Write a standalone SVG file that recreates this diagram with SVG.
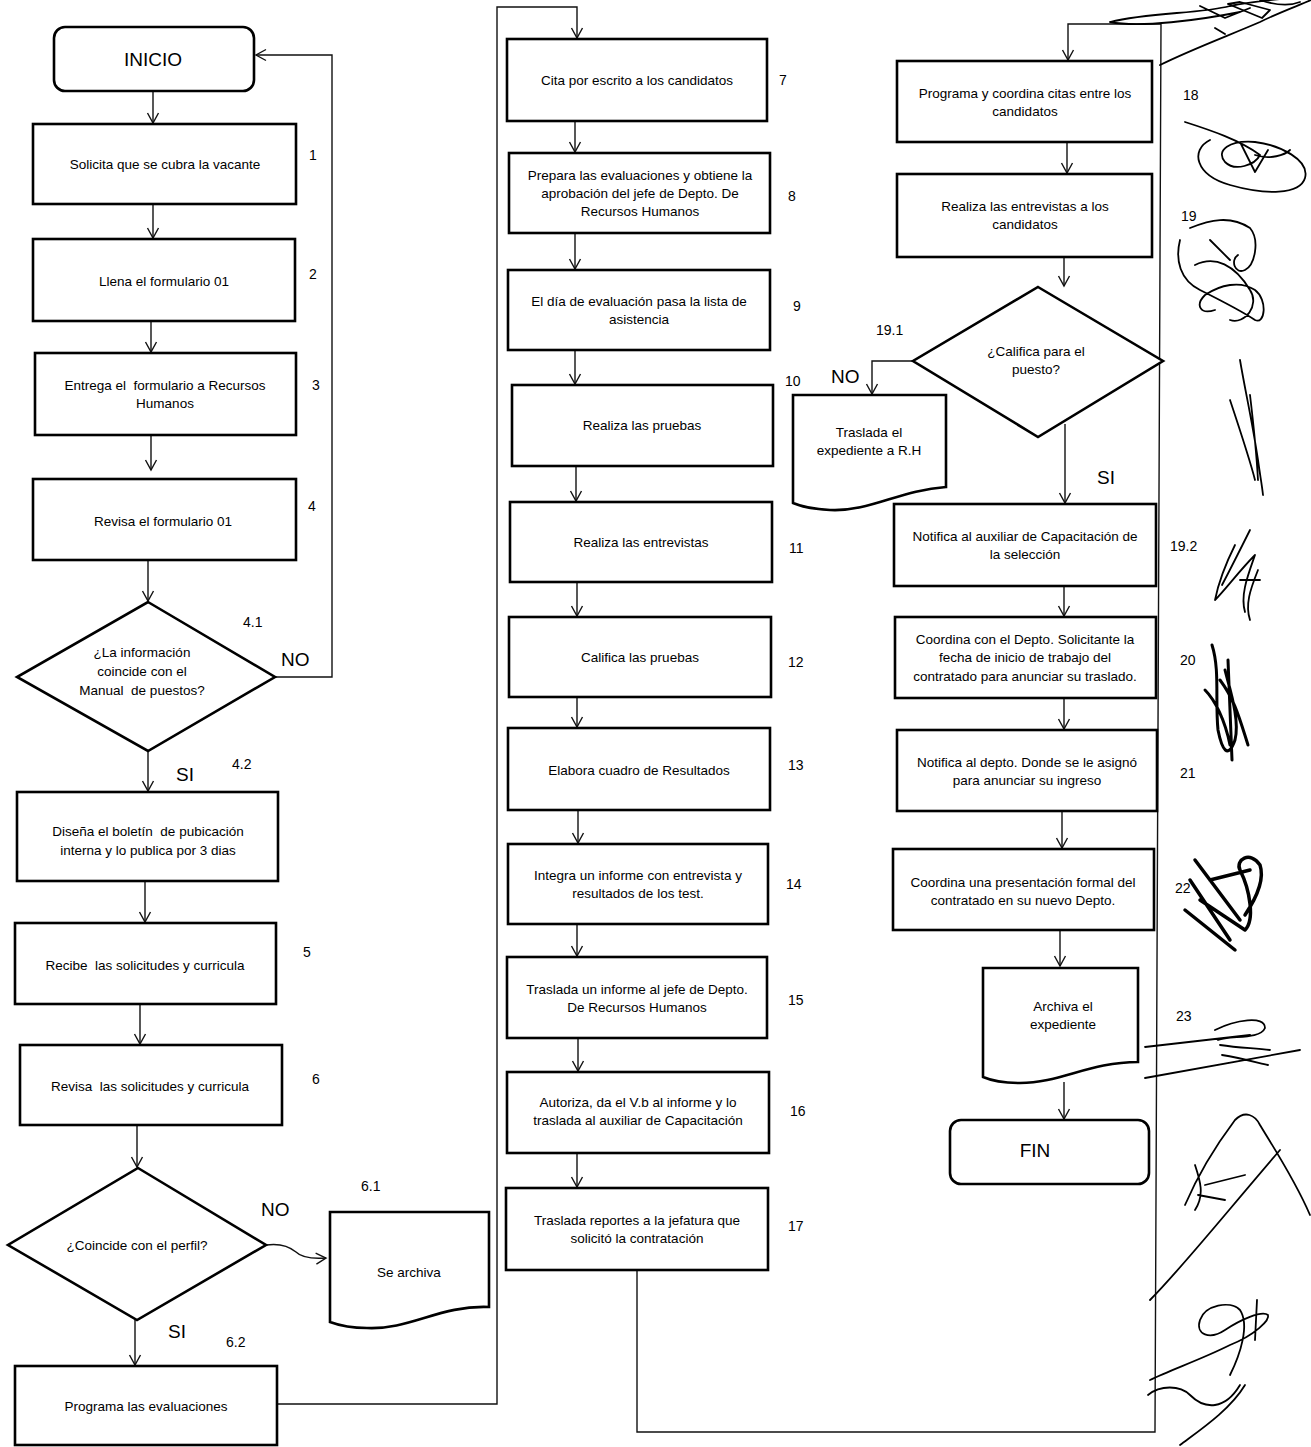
<svg xmlns="http://www.w3.org/2000/svg" width="1311" height="1447" viewBox="0 0 1311 1447">
<style>
.box{fill:#fff;stroke:#000;stroke-width:2.6}
.t{font-family:"Liberation Sans",Arial,sans-serif;font-size:13.5px;fill:#000;text-anchor:middle}
.n{font-family:"Liberation Sans",Arial,sans-serif;font-size:14px;fill:#000}
.big{font-family:"Liberation Sans",Arial,sans-serif;font-size:19px;fill:#000}
.term{font-family:"Liberation Sans",Arial,sans-serif;font-size:19px;fill:#000;text-anchor:middle}
.c{fill:none;stroke:#111;stroke-width:1.4}
.sig{fill:none;stroke:#000;stroke-width:1.8;stroke-linecap:round;stroke-linejoin:round}
</style>
<defs>
<marker id="a" viewBox="-11 -7 13 14" markerWidth="13" markerHeight="14" refX="0" refY="0" orient="auto" markerUnits="userSpaceOnUse">
<path d="M-10,-5.5 L0,0 L-10,5.5" fill="none" stroke="#111" stroke-width="1.4"/>
</marker>
</defs>
<rect width="1311" height="1447" fill="#fff"/>

<g id="connectors">
<path class="c" d="M153,91 V123" marker-end="url(#a)"/>
<path class="c" d="M153,204 V238" marker-end="url(#a)"/>
<path class="c" d="M151,321 V352" marker-end="url(#a)"/>
<path class="c" d="M151,435 V470" marker-end="url(#a)"/>
<path class="c" d="M148,560 V601" marker-end="url(#a)"/>
<path class="c" d="M275,677 H332 V55 H256" marker-end="url(#a)"/>
<path class="c" d="M148,751 V791" marker-end="url(#a)"/>
<path class="c" d="M145,881 V922" marker-end="url(#a)"/>
<path class="c" d="M140,1004 V1044" marker-end="url(#a)"/>
<path class="c" d="M137,1125 V1167" marker-end="url(#a)"/>
<path class="c" d="M266,1245 C280,1243 290,1247 296,1252 C302,1258 312,1259 326,1258" marker-end="url(#a)"/>
<path class="c" d="M135,1320 V1365" marker-end="url(#a)"/>
<path class="c" d="M277,1404 H497 V7 H577 V38" marker-end="url(#a)"/>
<path class="c" d="M575,121 V152" marker-end="url(#a)"/>
<path class="c" d="M575,233 V269" marker-end="url(#a)"/>
<path class="c" d="M575,350 V384" marker-end="url(#a)"/>
<path class="c" d="M576,466 V501" marker-end="url(#a)"/>
<path class="c" d="M577,582 V616" marker-end="url(#a)"/>
<path class="c" d="M577,697 V727" marker-end="url(#a)"/>
<path class="c" d="M578,810 V843" marker-end="url(#a)"/>
<path class="c" d="M577,924 V956" marker-end="url(#a)"/>
<path class="c" d="M578,1038 V1071" marker-end="url(#a)"/>
<path class="c" d="M577,1153 V1187" marker-end="url(#a)"/>
<path class="c" d="M637,1270 V1432 H1155 L1161,24 H1068 V60" marker-end="url(#a)"/>
<path class="c" d="M1067,142 V173" marker-end="url(#a)"/>
<path class="c" d="M1064,257 V286" marker-end="url(#a)"/>
<path class="c" d="M913,361 H872 V394" marker-end="url(#a)"/>
<path class="c" d="M1065,424 V503" marker-end="url(#a)"/>
<path class="c" d="M1064,586 V616" marker-end="url(#a)"/>
<path class="c" d="M1064,698 V729" marker-end="url(#a)"/>
<path class="c" d="M1062,811 V848" marker-end="url(#a)"/>
<path class="c" d="M1060,930 V966" marker-end="url(#a)"/>
<path class="c" d="M1064,1082 V1119" marker-end="url(#a)"/>
</g>

<g id="inicio"><rect class="box" x="54" y="27" width="200" height="64" rx="11"/><text class="term" x="153" y="66">INICIO</text></g>
<g id="n1"><rect class="box" x="33" y="124" width="263" height="80"/><text class="t" x="165" y="169">Solicita que se cubra la vacante</text><text class="n" x="309" y="160">1</text></g>
<g id="n2"><rect class="box" x="33" y="239" width="262" height="82"/><text class="t" x="164" y="286">Llena el formulario 01</text><text class="n" x="309" y="279">2</text></g>
<g id="n3"><rect class="box" x="35" y="353" width="261" height="82"/><text class="t" x="165" y="390" xml:space="preserve">Entrega el  formulario a Recursos</text><text class="t" x="165" y="408">Humanos</text><text class="n" x="312" y="390">3</text></g>
<g id="n4"><rect class="box" x="33" y="479" width="263" height="81"/><text class="t" x="163" y="526">Revisa el formulario 01</text><text class="n" x="308" y="511">4</text></g>
<g id="d41"><polygon class="box" points="148,602 275,677 148,751 17,677"/><text class="t" x="142" y="657">¿La información</text><text class="t" x="142" y="676">coincide con el</text><text class="t" x="142" y="695" xml:space="preserve">Manual  de puestos?</text><text class="n" x="243" y="627">4.1</text><text class="big" x="281" y="666">NO</text><text class="big" x="176" y="781">SI</text><text class="n" x="232" y="769">4.2</text></g>
<g id="n42"><rect class="box" x="17" y="792" width="261" height="89"/><text class="t" x="148" y="836" xml:space="preserve">Diseña el boletín  de pubicación</text><text class="t" x="148" y="855">interna y lo publica por 3 dias</text></g>
<g id="n5"><rect class="box" x="15" y="923" width="261" height="81"/><text class="t" x="145" y="970" xml:space="preserve">Recibe  las solicitudes y curricula</text><text class="n" x="303" y="957">5</text></g>
<g id="n6"><rect class="box" x="20" y="1045" width="262" height="80"/><text class="t" x="150" y="1091" xml:space="preserve">Revisa  las solicitudes y curricula</text><text class="n" x="312" y="1084">6</text></g>
<g id="d6"><polygon class="box" points="138,1168 266,1245 137,1320 8,1245"/><text class="t" x="137" y="1250">¿Coincide con el perfil?</text><text class="big" x="261" y="1216">NO</text><text class="n" x="361" y="1191">6.1</text><text class="big" x="168" y="1338">SI</text><text class="n" x="226" y="1347">6.2</text></g>
<g id="n61"><path class="box" d="M330,1212 H489 V1307 C440,1305 410,1330 367,1328 C350,1328 338,1325 330,1322 Z"/><text class="t" x="409" y="1277">Se archiva</text></g>
<g id="n62"><rect class="box" x="15" y="1366" width="262" height="79"/><text class="t" x="146" y="1411">Programa las evaluaciones</text></g>

<g id="n7"><rect class="box" x="507" y="39" width="260" height="82"/><text class="t" x="637" y="85">Cita por escrito a los candidatos</text><text class="n" x="779" y="85">7</text></g>
<g id="n8"><rect class="box" x="509" y="153" width="261" height="80"/><text class="t" x="640" y="180">Prepara las evaluaciones y obtiene la</text><text class="t" x="640" y="198">aprobación del jefe de Depto. De</text><text class="t" x="640" y="216">Recursos Humanos</text><text class="n" x="788" y="201">8</text></g>
<g id="n9"><rect class="box" x="508" y="270" width="262" height="80"/><text class="t" x="639" y="306">El día de evaluación pasa la lista de</text><text class="t" x="639" y="324">asistencia</text><text class="n" x="793" y="311">9</text></g>
<g id="n10"><rect class="box" x="512" y="385" width="261" height="81"/><text class="t" x="642" y="430">Realiza las pruebas</text><text class="n" x="785" y="386">10</text></g>
<g id="n11"><rect class="box" x="510" y="502" width="262" height="80"/><text class="t" x="641" y="547">Realiza las entrevistas</text><text class="n" x="789" y="553">11</text></g>
<g id="n12"><rect class="box" x="509" y="617" width="262" height="80"/><text class="t" x="640" y="662">Califica las pruebas</text><text class="n" x="788" y="667">12</text></g>
<g id="n13"><rect class="box" x="508" y="728" width="262" height="82"/><text class="t" x="639" y="775">Elabora cuadro de Resultados</text><text class="n" x="788" y="770">13</text></g>
<g id="n14"><rect class="box" x="508" y="844" width="260" height="80"/><text class="t" x="638" y="880">Integra un informe con entrevista y</text><text class="t" x="638" y="898">resultados de los test.</text><text class="n" x="786" y="889">14</text></g>
<g id="n15"><rect class="box" x="507" y="957" width="260" height="81"/><text class="t" x="637" y="994">Traslada un informe al jefe de Depto.</text><text class="t" x="637" y="1012">De Recursos Humanos</text><text class="n" x="788" y="1005">15</text></g>
<g id="n16"><rect class="box" x="507" y="1072" width="262" height="81"/><text class="t" x="638" y="1107">Autoriza, da el V.b al informe y lo</text><text class="t" x="638" y="1125">traslada al auxiliar de Capacitación</text><text class="n" x="790" y="1116">16</text></g>
<g id="n17"><rect class="box" x="506" y="1188" width="262" height="82"/><text class="t" x="637" y="1225">Traslada reportes a la jefatura que</text><text class="t" x="637" y="1243">solicitó la contratación</text><text class="n" x="788" y="1231">17</text></g>

<g id="n18"><rect class="box" x="897" y="61" width="255" height="81"/><text class="t" x="1025" y="98">Programa y coordina citas entre los</text><text class="t" x="1025" y="116">candidatos</text><text class="n" x="1183" y="100">18</text></g>
<g id="n19"><rect class="box" x="897" y="174" width="255" height="83"/><text class="t" x="1025" y="211">Realiza las entrevistas a los</text><text class="t" x="1025" y="229">candidatos</text><text class="n" x="1181" y="221">19</text></g>
<g id="d191"><polygon class="box" points="1038,287 1163,361 1038,437 913,361"/><text class="t" x="1036" y="356">¿Califica para el</text><text class="t" x="1036" y="374">puesto?</text><text class="n" x="876" y="335">19.1</text><text class="big" x="831" y="383">NO</text><text class="big" x="1097" y="484">SI</text></g>
<g id="n191"><path class="box" d="M793,395 H946 V487 C900,490 870,512 830,510 C810,509 800,506 793,503 Z"/><text class="t" x="869" y="437">Traslada el</text><text class="t" x="869" y="455">expediente a R.H</text></g>
<g id="n192"><rect class="box" x="894" y="504" width="262" height="82"/><text class="t" x="1025" y="541">Notifica al auxiliar de Capacitación de</text><text class="t" x="1025" y="559">la selección</text><text class="n" x="1170" y="551">19.2</text></g>
<g id="n20"><rect class="box" x="895" y="617" width="261" height="81"/><text class="t" x="1025" y="644">Coordina con el Depto. Solicitante la</text><text class="t" x="1025" y="662">fecha de inicio de trabajo del</text><text class="t" x="1025" y="681">contratado para anunciar su traslado.</text><text class="n" x="1180" y="665">20</text></g>
<g id="n21"><rect class="box" x="897" y="730" width="260" height="81"/><text class="t" x="1027" y="767">Notifica al depto. Donde se le asignó</text><text class="t" x="1027" y="785">para anunciar su ingreso</text><text class="n" x="1180" y="778">21</text></g>
<g id="n22"><rect class="box" x="893" y="849" width="261" height="81"/><text class="t" x="1023" y="887">Coordina una presentación formal del</text><text class="t" x="1023" y="905">contratado en su nuevo Depto.</text><text class="n" x="1175" y="893">22</text></g>
<g id="n23"><path class="box" d="M983,968 H1138 V1062 C1090,1062 1060,1083 1020,1083 C1000,1083 990,1080 983,1077 Z"/><text class="t" x="1063" y="1011">Archiva el</text><text class="t" x="1063" y="1029">expediente</text><text class="n" x="1176" y="1021">23</text></g>
<g id="fin"><rect class="box" x="950" y="1120" width="199" height="64" rx="11"/><text class="term" x="1035" y="1157">FIN</text></g>

<g id="signatures">
<path class="sig" d="M1110,22 C1150,12 1200,14 1230,6 C1250,2 1270,0 1290,-2 M1110,22 C1140,28 1200,20 1240,12 M1160,65 C1190,50 1230,35 1260,22 C1280,12 1300,5 1311,0 M1200,6 L1225,18 L1250,8 M1215,28 L1225,34 M1260,0 C1275,5 1290,6 1300,2"/>
<path class="sig" d="M1228,4 L1262,18 L1270,10 L1240,2 Z" fill="#000"/>
<path class="sig" d="M1185,122 C1210,130 1240,140 1260,155 M1210,140 C1190,150 1195,175 1230,185 C1265,195 1300,195 1305,178 C1310,160 1280,145 1255,142 C1230,140 1215,150 1225,162 C1235,172 1255,165 1260,155 M1240,142 L1255,172 L1268,150 M1255,155 C1270,160 1285,155 1290,150"/>
<path class="sig" d="M1190,228 C1210,220 1230,215 1250,228 C1260,240 1255,265 1245,270 C1235,275 1230,260 1238,255 M1180,240 C1175,260 1180,280 1200,290 C1220,300 1240,310 1255,320 C1265,325 1268,300 1255,290 C1240,280 1220,285 1205,295 C1195,305 1200,315 1215,310 M1195,265 C1215,255 1235,265 1250,290 C1260,305 1245,325 1230,320 M1210,240 L1230,260"/>
<path class="sig" d="M1240,360 C1245,390 1252,420 1258,460 C1260,475 1262,485 1263,495 M1250,395 C1253,420 1256,445 1258,480 M1230,400 C1240,430 1250,460 1255,480"/>
<path class="sig" d="M1250,530 C1240,550 1230,570 1222,585 M1235,545 C1225,565 1218,585 1215,600 C1225,590 1240,570 1255,555 C1248,575 1240,595 1245,612 M1258,570 C1250,590 1245,605 1250,620 M1240,580 L1260,580"/>
<path class="sig" d="M1212,645 C1220,670 1215,700 1218,730 C1222,750 1228,760 1235,740 C1240,720 1230,690 1225,670 M1220,680 C1235,700 1240,720 1248,745 M1205,690 C1215,700 1225,720 1230,745 M1228,660 L1232,760" style="stroke-width:3"/>
<path class="sig" d="M1195,860 L1240,920 M1190,880 L1230,940 M1200,900 L1245,930 C1255,920 1250,890 1240,870 C1235,860 1250,850 1260,865 C1265,880 1255,900 1245,915 M1185,910 L1235,950 M1210,880 L1250,870" style="stroke-width:3.5"/>
<path class="sig" d="M1145,1047 L1250,1035 M1145,1078 L1300,1050 M1215,1030 C1235,1020 1265,1015 1265,1028 C1260,1040 1230,1035 1218,1040 M1220,1045 C1240,1048 1255,1048 1270,1050 M1222,1055 C1240,1058 1255,1062 1268,1065"/>
<path class="sig" d="M1150,1300 C1180,1270 1220,1220 1280,1150 M1185,1205 C1200,1170 1220,1140 1235,1120 C1245,1110 1255,1115 1260,1125 C1275,1150 1295,1180 1310,1215 M1195,1165 C1200,1180 1205,1195 1195,1210 M1205,1185 L1245,1175 M1198,1195 L1225,1200" />
<path class="sig" d="M1150,1380 C1170,1370 1200,1360 1230,1345 C1255,1335 1270,1320 1268,1315 C1262,1310 1240,1320 1225,1330 C1210,1340 1195,1335 1200,1320 C1205,1305 1230,1300 1240,1310 C1250,1325 1240,1355 1230,1375 M1148,1395 C1160,1385 1180,1385 1190,1395 C1205,1410 1225,1410 1240,1385 M1180,1445 C1200,1430 1230,1410 1245,1385 M1255,1340 L1257,1300"/>
</g>
</svg>
